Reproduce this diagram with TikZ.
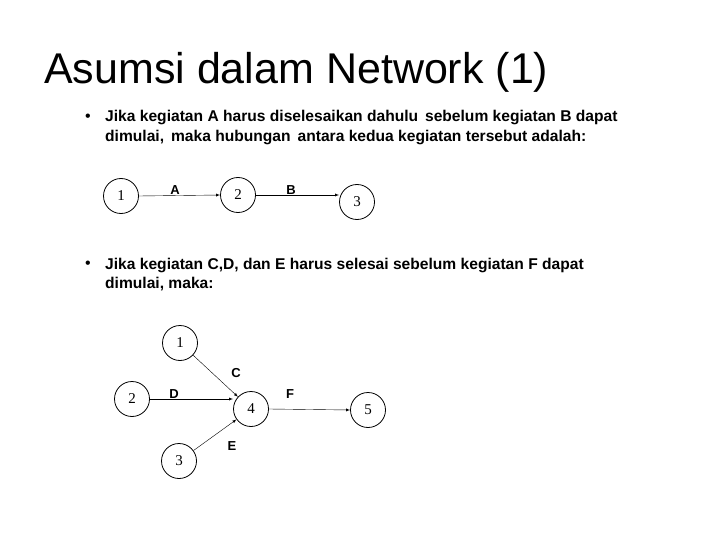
\documentclass[tikz,border=0pt]{standalone}
\usepackage{fontspec}
\setmainfont{Liberation Sans}
\newfontfamily\serifnum{Liberation Serif}
\begin{document}
\begin{tikzpicture}[x=1pt,y=-1pt,
  ev/.style={circle,draw,thick,minimum size=35pt,inner sep=0pt,font=\serifnum\fontsize{15}{15}\selectfont},
  act/.style={-latex,thin},
  lbl/.style={font=\bfseries\fontsize{13}{13}\selectfont},
  txt/.style={anchor=west,font=\bfseries\fontsize{15.6}{18}\selectfont,inner sep=0pt}]
\useasboundingbox (0,0) rectangle (720,540);
\node[anchor=west,inner sep=0pt,font=\fontsize{43}{43}\selectfont] (title) at (44,72) {Asumsi dalam Network (1)};
\node[inner sep=0pt,font=\fontsize{16}{16}\selectfont] (b1) at (88,118) {•};
\node[txt] (t1) at (105,118) {Jika kegiatan A harus diselesaikan dahulu\, sebelum kegiatan B dapat};
\node[txt] (t2) at (105,138) {dimulai,\, maka hubungan\, antara kedua kegiatan tersebut adalah:};
\node[ev] (a1) at (121,196) {1};
\node[ev] (a2) at (238,195) {2};
\node[ev] (a3) at (357,202) {3};
\draw[act] (a1.east) -- (a2.west);
\draw[act] (a2.east) -- (a3.west |- a2.east);
\node[lbl] (lA) at (175,190) {A};
\node[lbl] (lB) at (291,190) {B};
\node[inner sep=0pt,font=\fontsize{16}{16}\selectfont] (b2) at (88,265) {•};
\node[txt] (t3) at (105,265) {Jika kegiatan C,D, dan E harus selesai sebelum kegiatan F dapat};
\node[txt] (t4) at (105,284) {dimulai, maka:};
\node[ev] (n1) at (180,343) {1};
\node[ev] (n2) at (132,399) {2};
\node[ev] (n3) at (179,461) {3};
\node[ev] (n4) at (251,409) {4};
\node[ev] (n5) at (368,410) {5};
\draw[act] (n1) -- (n4);
\draw[act] (n2.east) -- (n4.west |- n2.east);
\draw[act] (n3) -- (n4);
\draw[act] (n4.east) -- (n5.west);
\node[lbl] (lC) at (236,373) {C};
\node[lbl] (lD) at (174,394) {D};
\node[lbl] (lE) at (232,446) {E};
\node[lbl] (lF) at (290,394) {F};
\end{tikzpicture}
\end{document}
